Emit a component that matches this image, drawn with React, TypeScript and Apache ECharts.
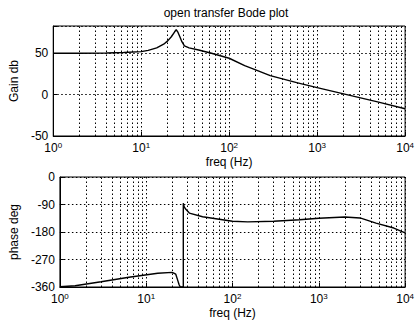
import React, { useEffect, useRef } from "react";
import * as echarts from "echarts";

const freqTicks = [1, 10, 100, 1000, 10000];
const gainTicks = [-50, 0, 50];
const phaseTicks = [-360, -270, -180, -90, 0];

const gainData: [number, number][] = [
  [1, 50], [2, 50.1], [4, 50.4], [6.3, 51], [10, 52], [12, 53.5], [15, 56.5],
  [18, 61], [20, 65], [22, 70], [24, 76], [25, 78.5], [26, 76], [27.5, 70],
  [29, 64], [31, 59], [35, 56.5], [45, 54], [63, 50], [100, 44], [150, 35],
  [200, 30], [293, 23], [585, 14.6], [1000, 8.5], [2000, 1], [5000, -9], [10000, -17],
];

const phaseData: [number, number][] = [
  [1, -359], [1.5, -356], [3, -343], [6.3, -328], [13.6, -315], [20, -312],
  [22, -318], [23, -335], [24, -352], [24.8, -360], [26.9, -360], [26.9, -86],
  [27.5, -97], [28.6, -105], [31.6, -118], [45, -130], [100, -145], [150, -147],
  [300, -145], [600, -140], [1000, -135], [2000, -131], [3000, -134],
  [4600, -151], [7400, -167], [10000, -183],
];

const minorFreqs: number[] = [];
for (let d = 1; d < 10000; d *= 10) {
  for (let k = 2; k <= 9; k++) minorFreqs.push(k * d);
}

const FONT = "Liberation Sans, Arial, sans-serif";
const dotted = { color: "#000", width: 1, type: [1.5, 2.5] as number[] };

function xAxisFor(gridIndex: number) {
  return {
    type: "log" as const,
    logBase: 10,
    min: 1,
    max: 10000,
    gridIndex,
    name: "freq (Hz)",
    nameLocation: "middle" as const,
    nameGap: 20,
    nameTextStyle: { color: "#000", fontSize: 12, fontFamily: FONT },
    axisLine: { show: true, onZero: false, lineStyle: { color: "#000", width: 1 } },
    axisTick: { show: true, inside: true, length: 4, lineStyle: { color: "#000" } },
    axisLabel: {
      margin: 5,
      color: "#000",
      fontFamily: FONT,
      formatter: (v: number) => `{b|10}{s|${Math.round(Math.log10(v))}}`,
      rich: {
        b: { fontSize: 12, fontFamily: FONT, color: "#000", lineHeight: 14 },
        s: { fontSize: 8, fontFamily: FONT, color: "#000", verticalAlign: "top", lineHeight: 14, padding: [0, 0, 6, 0] },
      },
    },
    splitLine: { show: true, lineStyle: dotted },
  };
}

function yAxisFor(gridIndex: number, min: number, max: number, interval: number, name: string, ticks: number[]) {
  return {
    type: "value" as const,
    gridIndex,
    min,
    max,
    interval,
    name,
    nameLocation: "middle" as const,
    nameGap: 22,
    nameTextStyle: { color: "#000", fontSize: 12, fontFamily: FONT },
    axisLine: { show: true, onZero: false, lineStyle: { color: "#000", width: 1 } },
    axisTick: { show: true, inside: true, length: 4, lineStyle: { color: "#000" } },
    axisLabel: {
      margin: 5,
      color: "#000",
      fontSize: 12,
      fontFamily: FONT,
      formatter: (v: number) => (ticks.includes(v) ? String(v) : ""),
    },
    splitLine: { show: true, lineStyle: dotted },
  };
}

function minorGridSeries(idx: number) {
  return {
    type: "line" as const,
    xAxisIndex: idx,
    yAxisIndex: idx,
    data: [],
    silent: true,
    z: 1,
    markLine: {
      silent: true,
      symbol: ["none", "none"],
      label: { show: false },
      lineStyle: dotted,
      data: minorFreqs.map((f) => ({ xAxis: f })),
    },
  };
}

export default function App() {
  const ref = useRef<HTMLDivElement>(null);
  useEffect(() => {
    if (!ref.current) return;
    const chart = echarts.init(ref.current, null, { renderer: "svg" });
    chart.setOption({
      animation: false,
      backgroundColor: "#fff",
      grid: [
        { left: 48, top: 26, width: 360, height: 110, show: true, borderColor: "#000", borderWidth: 1, backgroundColor: "transparent" },
        { left: 48, top: 177, width: 360, height: 110, show: true, borderColor: "#000", borderWidth: 1, backgroundColor: "transparent" },
      ],
      graphic: [
        {
          type: "text",
          x: 226,
          y: 13,
          style: { text: "open transfer Bode plot", fill: "#000", fontSize: 12, fontFamily: FONT, textAlign: "center", textVerticalAlign: "middle" },
        },
      ],
      xAxis: [xAxisFor(0), xAxisFor(1)],
      yAxis: [
        yAxisFor(0, -50, 83, 50, "Gain db", gainTicks),
        yAxisFor(1, -360, 0, 90, "phase deg", phaseTicks),
      ],
      series: [
        minorGridSeries(0),
        minorGridSeries(1),
        {
          type: "line",
          xAxisIndex: 0,
          yAxisIndex: 0,
          data: gainData,
          showSymbol: false,
          clip: true,
          z: 5,
          lineStyle: { color: "#000", width: 1.4 },
        },
        {
          type: "line",
          xAxisIndex: 1,
          yAxisIndex: 1,
          data: phaseData,
          showSymbol: false,
          clip: true,
          z: 5,
          lineStyle: { color: "#000", width: 1.4 },
        },
      ],
    });
    return () => chart.dispose();
  }, []);
  return <div ref={ref} style={{ position: "fixed", left: 0, top: 0, width: 417, height: 326, background: "#fff" }} />;
}
